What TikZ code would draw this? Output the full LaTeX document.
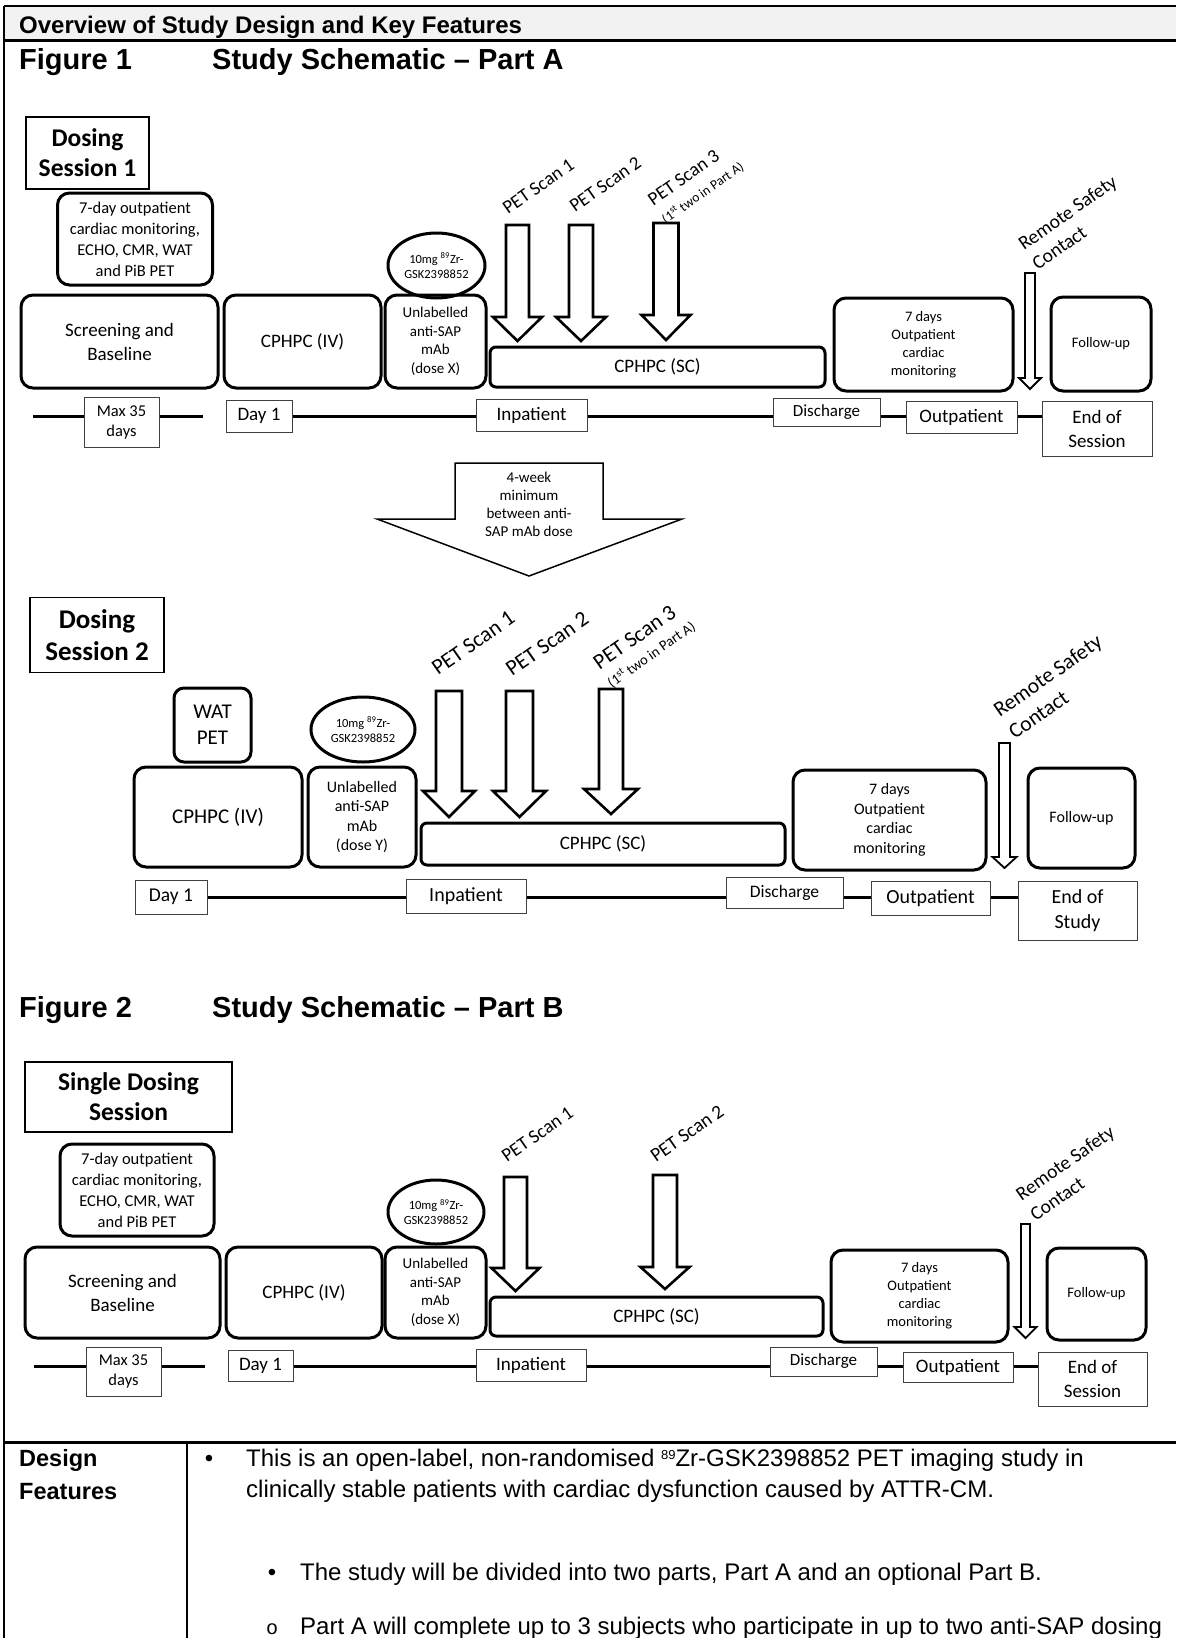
\documentclass[tikz,border=0pt]{standalone}
\usepackage{fontspec}
\setmainfont{Carlito}
\newfontfamily\arialfont{Liberation Sans}
\newfontfamily\courfont{Liberation Mono}
\usepackage{tikz}
\usetikzlibrary{shapes.geometric}
\newcommand{\fsz}[2]{\fontsize{#1}{#2}\selectfont}
\newcommand{\blockarrow}[7][]{\draw [blk, #1] (#2-#6, #3) -- (#2+#6, #3) -- (#2+#6, #4) -- (#2+#7, #4) -- (#2, #5) -- (#2-#7, #4) -- (#2-#6, #4) -- cycle;}
\tikzset{rbox/.style = {draw, line width = 3, rounded corners = 12, align = center, inner sep = 0}}
\tikzset{ell/.style = {draw, ellipse, line width = 3, align = center, inner sep = 0}}
\tikzset{lbox/.style = {draw = black!75, line width = 1, align = center, inner sep = 0}}
\tikzset{sess/.style = {draw, line width = 1.2, align = center, inner sep = 0}}
\tikzset{tline/.style = {line width = 3}}
\tikzset{blk/.style = {draw, line width = 2.6, fill = white}}
\tikzset{lbl/.style = {rotate = 35, anchor = base west, inner sep = 0}}
\tikzset{lbl2/.style = {rotate = 35, anchor = south west, align = left, inner sep = 0}}
\tikzset{txt/.style = {anchor = base west, inner sep = 0}}

\begin{document}
\begin{tikzpicture}[x = 1pt, y = -1pt]
      \useasboundingbox (0, 0) rectangle (1176, 1638);
      \fill [black!5] (4, 6) rectangle (1176, 40);
      \draw [line width = 2] (4, 6) -- (1176, 6);
      \draw [line width = 3] (4, 40) -- (1176, 40);
      \draw [line width = 2.5] (4, 6) -- (4, 1638);
      \draw [line width = 3] (4, 1442) -- (1176, 1442);
      \draw [line width = 2.5] (187, 1442) -- (187, 1638);
      \node [txt, font = \arialfont\fsz{24}{28}\bfseries] (head) at (19, 33) {Overview of Study Design and Key Features};
      \node [txt, font = \arialfont\fsz{29}{32}\bfseries] (fig1) at (19, 69) {Figure 1};
      \node [txt, font = \arialfont\fsz{29}{32}\bfseries] (tit1) at (212, 69) {Study Schematic – Part A};
      \node [txt, font = \arialfont\fsz{29}{32}\bfseries] (fig2) at (19, 1017) {Figure 2};
      \node [txt, font = \arialfont\fsz{29}{32}\bfseries] (tit2) at (212, 1017) {Study Schematic – Part B};

      \node [sess, minimum width = 123, minimum height = 72, font = \fsz{25.5}{30}\bfseries] (dose1) at (87.5, 153) {Dosing\\Session 1};
      \node [rbox, minimum width = 155, minimum height = 92, font = \fsz{16.5}{21}] (mon1) at (135, 239) {7-day outpatient\\cardiac monitoring,\\ECHO, CMR, WAT\\and PiB PET};
      \node [rbox, minimum width = 197, minimum height = 93, font = \fsz{19}{24}] (scr1) at (119.5, 341.5) {Screening and\\Baseline};
      \node [rbox, minimum width = 157, minimum height = 93, font = \fsz{19}{24}] (iv1) at (302.5, 341.5) {CPHPC (IV)};
      \node [ell, minimum width = 97, minimum height = 65, font = \fsz{12.5}{15}] (zr1) at (436.5, 265.5) {10mg \textsuperscript{89}Zr-\\GSK2398852};
      \node [rbox, minimum width = 101, minimum height = 93, font = \fsz{15}{18.5}] (mab1) at (435.5, 341.5) {Unlabelled\\anti-SAP\\mAb\\(dose X)};
      \node [rbox, rounded corners = 6, minimum width = 335, minimum height = 40, font = \fsz{19}{24}] (sc1) at (657.5, 367) {CPHPC (SC)};
      \node [rbox, minimum width = 179, minimum height = 93, font = \fsz{14.5}{18}] (opm1) at (923.5, 344.5) {7 days\\Outpatient\\cardiac\\monitoring};
      \node [rbox, minimum width = 100, minimum height = 94, font = \fsz{14.5}{18}] (fu1) at (1101, 344) {Follow-up};
      \node [lbox, minimum width = 75, minimum height = 50, font = \fsz{16.5}{20}] (max1) at (121.5, 422) {Max 35\\days};
      \node [lbox, minimum width = 66, minimum height = 32, font = \fsz{19}{24}] (day1) at (259, 416) {Day 1};
      \node [lbox, minimum width = 111, minimum height = 32, font = \fsz{19}{24}] (inp1) at (531.5, 415) {Inpatient};
      \node [lbox, minimum width = 107, minimum height = 28, font = \fsz{17}{20}] (dis1) at (826.5, 412) {Discharge};
      \node [lbox, minimum width = 111, minimum height = 32, font = \fsz{19}{24}] (out1) at (961.5, 417) {Outpatient};
      \node [lbox, minimum width = 110, minimum height = 55, font = \fsz{19}{24}] (end1) at (1097, 428.5) {End of\\Session};
      \coordinate (a1) at (33, 416);
      \coordinate (b1) at (203, 416);
      \draw [tline] (a1) -- (a1 -| max1.west) (max1.east |- a1) -- (b1);
      \foreach \p/\q in {day1/inp1, inp1/dis1, dis1/out1, out1/end1}
        \draw [tline] (\p.east |- day1) -- (\q.west |- day1);
      \blockarrow{517.5}{225}{317}{341}{11.5}{24.5}
      \blockarrow{581}{225}{317}{341}{12}{25}
      \blockarrow{666}{223}{315}{340}{12.5}{24.5}
      \blockarrow[line width = 1.8]{1030}{273}{378}{389}{5}{11}
      \node [lbl, font = \fsz{19}{22}] (pet11) at (508, 215) {PET Scan 1};
      \node [lbl, font = \fsz{19}{22}] (pet12) at (575, 213) {PET Scan 2};
      \node [lbl2, font = \fsz{19}{22}] (pet13) at (667, 226) {PET Scan 3\\{\fsz{13.5}{16}(1\textsuperscript{st} two in Part A)}};
      \node [lbl2, font = \fsz{19.5}{24}] (rs1) at (1038, 271) {Remote Safety\\Contact};

      \draw [line width = 1.5, fill = white] (455, 463) -- (603, 463) -- (603, 519) -- (682, 519) -- (529, 576) -- (377, 519) -- (455, 519) -- cycle;
      \node [align = center, inner sep = 0, font = \fsz{15}{18}] (gap) at (529, 504) {4-week\\minimum\\between anti-\\SAP mAb dose};

      \node [sess, minimum width = 134, minimum height = 75, font = \fsz{27}{32}\bfseries] (dose2) at (97, 635) {Dosing\\Session 2};
      \node [rbox, rounded corners = 10, minimum width = 77, minimum height = 74, font = \fsz{21}{26}] (wat2) at (212.5, 725) {WAT\\PET};
      \node [rbox, minimum width = 168, minimum height = 100, font = \fsz{21}{26}] (iv2) at (218, 817) {CPHPC (IV)};
      \node [ell, minimum width = 104, minimum height = 65, font = \fsz{12.5}{15}] (zr2) at (363, 729.5) {10mg \textsuperscript{89}Zr-\\GSK2398852};
      \node [rbox, minimum width = 108, minimum height = 100, font = \fsz{16}{19.5}] (mab2) at (362, 817) {Unlabelled\\anti-SAP\\mAb\\(dose Y)};
      \node [rbox, rounded corners = 6, minimum width = 364, minimum height = 42, font = \fsz{19}{24}] (sc2) at (603, 844) {CPHPC (SC)};
      \node [rbox, minimum width = 193, minimum height = 100, font = \fsz{16}{19.5}] (opm2) at (889.5, 820) {7 days\\Outpatient\\cardiac\\monitoring};
      \node [rbox, minimum width = 107, minimum height = 100, font = \fsz{16}{19.5}] (fu2) at (1081.5, 818) {Follow-up};
      \node [lbox, minimum width = 72, minimum height = 34, font = \fsz{19.5}{24}] (day2) at (171, 897) {Day 1};
      \node [lbox, minimum width = 120, minimum height = 34, font = \fsz{20}{24}] (inp2) at (466, 896) {Inpatient};
      \node [lbox, minimum width = 117, minimum height = 31, font = \fsz{17.5}{20}] (dis2) at (784.5, 892.5) {Discharge};
      \node [lbox, minimum width = 119, minimum height = 34, font = \fsz{20}{24}] (out2) at (930.5, 898) {Outpatient};
      \node [lbox, minimum width = 119, minimum height = 59, font = \fsz{20}{25}] (end2) at (1077.5, 910.5) {End of\\Study};
      \foreach \p/\q in {day2/inp2, inp2/dis2, dis2/out2, out2/end2}
        \draw [tline] (\p.east |- day2) -- (\q.west |- day2);
      \blockarrow{449}{691}{791}{817}{13}{26}
      \blockarrow{519.5}{691}{791}{817}{13.5}{26.5}
      \blockarrow{611}{689}{789}{814}{12}{27}
      \blockarrow[line width = 1.8]{1004.5}{743}{857}{868}{5.5}{12}
      \node [lbl, font = \fsz{22}{26}] (pet21) at (438, 676) {PET Scan 1};
      \node [lbl, font = \fsz{22}{26}] (pet22) at (512, 677) {PET Scan 2};
      \node [lbl2, font = \fsz{22}{21.5}] (pet23) at (613, 690) {PET Scan 3\\{\fsz{14.5}{17}(1\textsuperscript{st} two in Part A)}};
      \node [lbl2, font = \fsz{21.5}{26.5}] (rs2) at (1015, 740) {Remote Safety\\Contact};

      \node [sess, minimum width = 207, minimum height = 70, font = \fsz{25.5}{30}\bfseries] (single) at (128.5, 1097) {Single Dosing\\Session};
      \node [rbox, minimum width = 154, minimum height = 92, font = \fsz{16.5}{21}] (mon3) at (137, 1190) {7-day outpatient\\cardiac monitoring,\\ECHO, CMR, WAT\\and PiB PET};
      \node [rbox, minimum width = 195, minimum height = 91, font = \fsz{19}{24}] (scr3) at (122.5, 1292.5) {Screening and\\Baseline};
      \node [rbox, minimum width = 156, minimum height = 91, font = \fsz{19}{24}] (iv3) at (304, 1292.5) {CPHPC (IV)};
      \node [ell, minimum width = 96, minimum height = 64, font = \fsz{12.5}{15}] (zr3) at (436, 1212) {10mg \textsuperscript{89}Zr-\\GSK2398852};
      \node [rbox, minimum width = 101, minimum height = 91, font = \fsz{15}{18.5}] (mab3) at (435.5, 1292.5) {Unlabelled\\anti-SAP\\mAb\\(dose X)};
      \node [rbox, rounded corners = 6, minimum width = 333, minimum height = 39, font = \fsz{19}{24}] (sc3) at (656.5, 1316.5) {CPHPC (SC)};
      \node [rbox, minimum width = 177, minimum height = 92, font = \fsz{14.5}{18}] (opm3) at (919.5, 1296) {7 days\\Outpatient\\cardiac\\monitoring};
      \node [rbox, minimum width = 99, minimum height = 92, font = \fsz{14.5}{18}] (fu3) at (1096.5, 1294) {Follow-up};
      \node [lbox, minimum width = 75, minimum height = 49, font = \fsz{16.5}{20}] (max3) at (123.5, 1371.5) {Max 35\\days};
      \node [lbox, minimum width = 65, minimum height = 31, font = \fsz{19}{24}] (day3) at (260.5, 1366) {Day 1};
      \node [lbox, minimum width = 110, minimum height = 32, font = \fsz{19}{24}] (inp3) at (531, 1365) {Inpatient};
      \node [lbox, minimum width = 107, minimum height = 29, font = \fsz{17}{20}] (dis3) at (823.5, 1361.5) {Discharge};
      \node [lbox, minimum width = 110, minimum height = 30, font = \fsz{19}{24}] (out3) at (958, 1367) {Outpatient};
      \node [lbox, minimum width = 109, minimum height = 54, font = \fsz{19}{24}] (end3) at (1092.5, 1379) {End of\\Session};
      \coordinate (a3) at (34, 1366);
      \coordinate (b3) at (205, 1366);
      \draw [tline] (a3) -- (a3 -| max3.west) (max3.east |- a3) -- (b3);
      \foreach \p/\q in {day3/inp3, inp3/dis3, dis3/out3, out3/end3}
        \draw [tline] (\p.east |- day3) -- (\q.west |- day3);
      \blockarrow{515.5}{1177}{1268}{1291}{11.5}{24}
      \blockarrow{665}{1175}{1267}{1289}{12}{24.5}
      \blockarrow[line width = 1.8]{1025.5}{1224}{1327}{1338}{4.5}{11}
      \node [lbl, font = \fsz{19}{22}] (pet31) at (507, 1163) {PET Scan 1};
      \node [lbl, font = \fsz{19.5}{22}] (pet32) at (656, 1163) {PET Scan 2};
      \node [lbl2, font = \fsz{19.5}{25}] (rs3) at (1036, 1222) {Remote Safety\\Contact};

      \node [txt, font = \arialfont\fsz{23.5}{28}\bfseries] (des) at (19, 1466) {Design};
      \node [txt, font = \arialfont\fsz{23.5}{28}\bfseries] (fea) at (19, 1499) {Features};
      \node [anchor = base, inner sep = 0, font = \arialfont\fsz{24}{28}] (bul1) at (209, 1466) {\textbullet};
      \node [txt, font = \arialfont\fsz{24}{28}] (lin1) at (246, 1466) {This is an open-label, non-randomised \raisebox{6.5pt}{\fsz{13}{13}89}Zr-GSK2398852 PET imaging study in};
      \node [txt, font = \arialfont\fsz{24}{28}] (lin2) at (246, 1497) {clinically stable patients with cardiac dysfunction caused by ATTR-CM.};
      \node [anchor = base, inner sep = 0, font = \arialfont\fsz{24}{28}] (bul2) at (272, 1580) {\textbullet};
      \node [txt, font = \arialfont\fsz{24}{28}] (lin3) at (300, 1580) {The study will be divided into two parts, Part A and an optional Part B.};
      \node [anchor = base, inner sep = 0, font = \courfont\fsz{20}{24}] (bul3) at (272, 1634) {o};
      \node [txt, font = \arialfont\fsz{24}{28}] (lin4) at (300, 1634) {Part A will complete up to 3 subjects who participate in up to two anti-SAP dosing};
\end{tikzpicture}
\end{document}
